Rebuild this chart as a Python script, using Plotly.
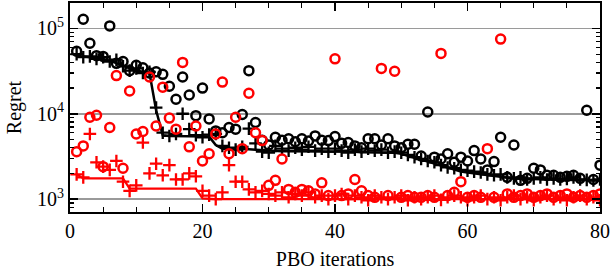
import plotly.graph_objects as go

iterations = list(range(1, 81))

black_circles = [
    5.4e4, 1.28e5, 6.7e4, 4.8e4, 4.7e4, 1.07e5, 3.9e4, 4.1e4, 3.2e4, 3.7e4,
    3.45e4, 3.0e4, 3.1e4, 2.9e4, 2.1e4, 1.48e4, 2.7e4, 1.66e4, 9.5e3, 2.0e4,
    8.7e3, 6.3e3, 6.0e3, 6.9e3, 6.6e3, 9.8e3, 3.2e4, 7.9e3, 4.9e3, 4.3e3,
    5.3e3, 4.9e3, 5.1e3, 4.7e3, 5.1e3, 4.8e3, 5.5e3, 4.9e3, 4.85e3, 5.4e3,
    4.5e3, 4.6e3, 4.2e3, 4.0e3, 5.1e3, 5.1e3, 4.3e3, 5.1e3, 4.2e3, 4.0e3,
    4.4e3, 4.4e3, 3.2e3, 1.05e4, 3.1e3, 2.95e3, 3.4e3, 2.7e3, 3.1e3, 2.8e3,
    3.7e3, 2.95e3, 2.2e3, 2.75e3, 5.3e3, 1.8e3, 4.3e3, 1.66e3, 1.75e3, 2.3e3,
    2.2e3, 1.9e3, 1.9e3, 1.8e3, 1.85e3, 1.9e3, 1.75e3, 1.1e4, 1.7e3, 2.5e3]

black_plus = [
    5.0e4, 4.6e4, 4.7e4, 4.4e4, 4.6e4, 4.1e4, 4.3e4, 3.6e4, 3.2e4, 3.4e4,
    3.0e4, 3.1e4, 1.18e4, 6.0e3, 5.5e3, 5.8e3, 1.0e4, 6.6e3, 5.6e3, 5.3e3,
    5.7e3, 5.8e3, 4.2e3, 4.0e3, 3.8e3, 4.1e3, 6.7e3, 4.5e3, 3.6e3, 3.5e3,
    4.2e3, 3.9e3, 3.7e3, 4.0e3, 3.8e3, 4.1e3, 3.7e3, 3.9e3, 3.6e3, 3.9e3,
    3.7e3, 3.5e3, 3.8e3, 3.6e3, 3.9e3, 3.7e3, 3.8e3, 3.5e3, 3.6e3, 3.5e3,
    3.3e3, 3.1e3, 2.95e3, 2.8e3, 2.7e3, 2.5e3, 2.35e3, 2.3e3, 2.2e3, 2.15e3,
    2.1e3, 2.05e3, 1.95e3, 1.9e3, 1.95e3, 1.8e3, 1.75e3, 1.8e3, 1.7e3, 1.75e3,
    1.8e3, 1.7e3, 1.75e3, 1.7e3, 1.72e3, 1.8e3, 1.7e3, 1.68e3, 1.65e3, 1.7e3]

black_line = [
    4.8e4, 4.7e4, 4.6e4, 4.5e4, 4.4e4, 4.2e4, 3.9e4, 3.6e4, 3.4e4, 3.2e4,
    3.1e4, 3.0e4, 1.1e4, 5.6e3, 5.5e3, 5.5e3, 5.5e3, 5.5e3, 5.5e3, 5.5e3,
    5.4e3, 4.3e3, 3.9e3, 3.9e3, 3.9e3, 3.85e3, 3.85e3, 3.8e3, 3.75e3, 3.7e3,
    3.7e3, 3.65e3, 3.65e3, 3.65e3, 3.6e3, 3.6e3, 3.6e3, 3.6e3, 3.6e3, 3.6e3,
    3.6e3, 3.6e3, 3.6e3, 3.55e3, 3.55e3, 3.55e3, 3.55e3, 3.55e3, 3.5e3, 3.4e3,
    3.2e3, 3.05e3, 2.9e3, 2.75e3, 2.6e3, 2.45e3, 2.3e3, 2.2e3, 2.1e3, 2.05e3,
    2.0e3, 1.95e3, 1.9e3, 1.85e3, 1.8e3, 1.75e3, 1.74e3, 1.73e3, 1.72e3, 1.72e3,
    1.71e3, 1.7e3, 1.7e3, 1.69e3, 1.69e3, 1.68e3, 1.68e3, 1.67e3, 1.67e3, 1.66e3]

red_circles = [
    3.6e3, 4.2e3, 9.1e3, 9.6e3, 2.4e3, 6.9e3, 2.8e4, 2.3e3, 1.85e4, 5.8e3,
    6.2e3, 2.7e4, 7.2e3, 2.05e4, 8.9e3, 6.6e3, 4.0e4, 4.1e3, 7.2e3, 2.8e3,
    3.4e3, 5.8e3, 2.35e4, 3.4e3, 9.1e3, 3.9e3, 1.74e4, 6.0e3, 4.85e3, 1.45e3,
    1.66e3, 2.95e3, 1.3e3, 1.2e3, 1.3e3, 1.25e3, 1.15e3, 1.55e3, 1.1e3, 4.4e4,
    1.1e3, 1.15e3, 1.7e3, 1.25e3, 1.1e3, 1.05e3, 3.4e4, 1.1e3, 3.15e4, 1.05e3,
    1.1e3, 1.05e3, 1.05e3, 1.1e3, 1.05e3, 5.1e4, 1.1e3, 1.2e3, 1.6e3, 1.05e3,
    1.1e3, 1.05e3, 3.9e3, 1.05e3, 7.5e4, 1.15e3, 1.05e3, 1.1e3, 1.15e3, 1.05e3,
    1.1e3, 1.15e3, 1.05e3, 1.1e3, 1.15e3, 1.05e3, 1.1e3, 1.05e3, 1.1e3, 1.15e3]

red_plus = [
    1.95e3, 1.8e3, 5.8e3, 2.7e3, 2.4e3, 2.2e3, 2.8e3, 1.6e3, 1.25e3, 1.45e3,
    4.6e3, 2.0e3, 2.6e3, 1.9e3, 2.5e3, 1.7e3, 1.7e3, 2.0e3, 1.85e3, 1.25e3,
    1.1e3, 1.0e3, 1.2e3, 2.5e3, 1.6e3, 1.6e3, 1.3e3, 1.2e3, 1.25e3, 1.15e3,
    1.1e3, 1.2e3, 1.05e3, 1.15e3, 1.1e3, 1.2e3, 1.05e3, 1.1e3, 1.0e3, 1.1e3,
    1.15e3, 1.0e3, 1.1e3, 1.05e3, 0.97e3, 1.1e3, 1.05e3, 1.0e3, 1.05e3, 1.1e3,
    0.97e3, 1.05e3, 1.0e3, 1.05e3, 1.1e3, 0.98e3, 1.05e3, 1.1e3, 1.05e3, 0.97e3,
    1.05e3, 1.1e3, 1.0e3, 1.05e3, 0.97e3, 1.05e3, 1.1e3, 1.0e3, 1.05e3, 0.97e3,
    1.05e3, 1.1e3, 1.0e3, 1.05e3, 0.97e3, 1.05e3, 1.1e3, 1.0e3, 1.05e3, 0.97e3]

red_line = [
    1.95e3, 1.75e3, 1.75e3, 1.75e3, 1.75e3, 1.75e3, 1.75e3, 1.75e3, 1.33e3, 1.33e3,
    1.33e3, 1.33e3, 1.33e3, 1.33e3, 1.33e3, 1.33e3, 1.33e3, 1.33e3, 1.33e3, 1.02e3,
    1.0e3, 1.0e3, 1.0e3, 1.0e3, 1.0e3, 1.0e3, 1.0e3, 1.0e3, 1.0e3, 1.0e3,
    1.0e3, 1.0e3, 1.0e3, 1.0e3, 1.0e3, 1.0e3, 1.0e3, 1.0e3, 1.0e3, 1.0e3,
    1.0e3, 1.0e3, 1.0e3, 1.0e3, 1.0e3, 1.0e3, 1.0e3, 1.0e3, 1.0e3, 1.0e3,
    1.0e3, 1.0e3, 1.0e3, 1.0e3, 1.0e3, 1.0e3, 1.0e3, 1.0e3, 1.0e3, 1.0e3,
    1.0e3, 1.0e3, 1.0e3, 1.0e3, 1.0e3, 1.0e3, 1.0e3, 1.0e3, 1.0e3, 1.0e3,
    1.0e3, 1.0e3, 1.0e3, 1.0e3, 1.0e3, 1.0e3, 1.0e3, 1.0e3, 1.0e3, 1.0e3]

x_ticks = [0, 20, 40, 60, 80]
y_ticks = [1e3, 1e4, 1e5]
y_ticktext = ["10<sup>3</sup>", "10<sup>4</sup>", "10<sup>5</sup>"]

FONT = "Liberation Serif"
BLACK = "#000000"
RED = "#ff0000"

fig = go.Figure()

def circles(y, color):
    return go.Scatter(x=iterations, y=y, mode="markers",
                      marker=dict(symbol="circle-open", size=9, color=color,
                                  line=dict(width=2.5, color=color)),
                      showlegend=False, hoverinfo="skip")

def pluses(y, color):
    return go.Scatter(x=iterations, y=y, mode="markers",
                      marker=dict(symbol="cross-thin", size=9, color=color,
                                  line=dict(width=2.3, color=color)),
                      showlegend=False, hoverinfo="skip")

def line(y, color, w):
    return go.Scatter(x=iterations, y=y, mode="lines",
                      line=dict(color=color, width=w),
                      showlegend=False, hoverinfo="skip")

fig.add_trace(circles(black_circles, BLACK))
fig.add_trace(pluses(black_plus, BLACK))
fig.add_trace(line(black_line, BLACK, 2.5))
fig.add_trace(circles(red_circles, RED))
fig.add_trace(pluses(red_plus, RED))
fig.add_trace(line(red_line, RED, 2.2))

minor_x = [v for v in range(5, 80, 5) if v % 20 != 0]
minor_y = [m * 10 ** e for e in range(2, 6) for m in range(2, 10)]

fig.update_layout(
    width=612, height=270,
    margin=dict(l=70, r=12, t=1, b=58),
    paper_bgcolor="white", plot_bgcolor="white",
    font=dict(family=FONT, size=20, color="black"),
    xaxis=dict(
        range=[0, 80], tickvals=x_ticks, ticks="inside", ticklen=8, tickwidth=1.5,
        tickcolor="black", showline=True, linewidth=2, linecolor="black",
        mirror="ticks", showgrid=False, zeroline=False,
        minor=dict(tickvals=minor_x, ticks="inside", ticklen=5, tickwidth=1.2,
                   tickcolor="black", showgrid=False),
        title=dict(text="PBO iterations", font=dict(size=20, family=FONT), standoff=11),
        tickfont=dict(size=20, family=FONT),
    ),
    yaxis=dict(
        type="log", range=[2.849, 5.298], tickvals=y_ticks, ticktext=y_ticktext,
        ticks="inside", ticklen=8, tickwidth=1.5, tickcolor="black",
        showline=True, linewidth=2, linecolor="black", mirror="ticks",
        showgrid=True, gridcolor="#9a9a9a", gridwidth=1.5, zeroline=False,
        minor=dict(tickvals=minor_y, ticks="inside", ticklen=4, tickwidth=1.2,
                   tickcolor="black", showgrid=False),
        title=dict(text="Regret", font=dict(size=20, family=FONT), standoff=10),
        tickfont=dict(size=20, family=FONT),
    ),
)

fig.write_html("out.html",
               config={"displayModeBar": False, "staticPlot": True},
               post_script="document.body.style.margin='0';document.body.style.overflow='hidden';")
